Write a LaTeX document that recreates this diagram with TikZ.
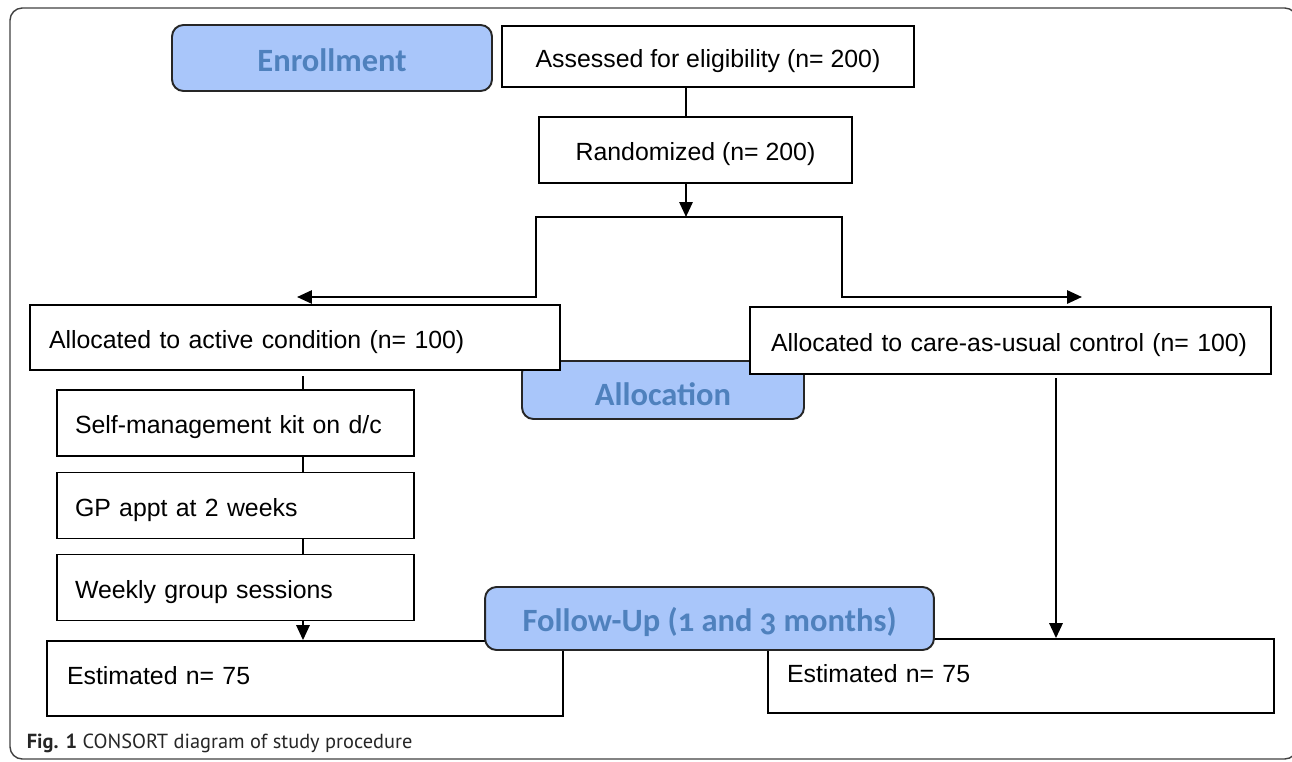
\documentclass[tikz,border=0pt]{standalone}
\usepackage{fontspec}
\setmainfont{Liberation Sans}
\newfontfamily\phasefont[Numbers=OldStyle]{Carlito}
\newfontfamily\capfont{PT Sans}
\usetikzlibrary{arrows.meta}
\definecolor{phasefill}{RGB}{169,198,250}
\definecolor{phasetext}{RGB}{79,129,189}
\tikzset{
	every node/.append style={font=\fontsize{14.15}{17}\selectfont}
	}

\begin{document}
\begin{tikzpicture}[>={Triangle[length=8.5pt,width=7.5pt]},x=0.02cm,y=-0.02cm]
		% \draw[help lines] (0,0) grid (1292,761);
		\path[use as bounding box] (0,0) rectangle (1292,761);
		\tikzstyle{every path}=[line width=1pt]
		\tikzstyle{plainbox}=[draw,rectangle,inner sep=0pt,fill=white,text height=12.5pt,text depth=0.5pt]
		\tikzstyle{leftbox}=[plainbox,align=left]
		\tikzstyle{estbox}=[leftbox,text height=10.3pt,text depth=3.4pt]
		\tikzstyle{phase}=[draw=black!85,line width=1.1pt,rounded corners=6.5pt,fill=phasefill,text=phasetext,inner sep=0pt,font=\phasefont\bfseries\fontsize{18.5}{22}\selectfont]
		\tikzstyle{link}=[line width=1.3pt]
		
		%% Frame
		\draw[line width=0.8pt,black!75,rounded corners=7pt] (10,8) rectangle (1297,759);
		
		%% Enrollment
		\draw (332,58) node[phase,minimum width=6.4cm,minimum height=1.32cm,text height=15.2pt,text depth=0pt] (enrol) {Enrollment};
		\draw (708,56.5) node[plainbox,minimum width=8.24cm,minimum height=1.22cm] (assess) {Assessed for eligibility (n= 200)};
		\draw (695.5,150) node[plainbox,minimum width=6.26cm,minimum height=1.32cm] (rand) {Randomized (n= 200)};
		\coordinate (split) at (686,217);
		\coordinate (splitL) at (536,217);
		\coordinate (splitR) at (842,217);
		\coordinate (armL) at (297,297);
		\coordinate (armR) at (1082,297);
		\draw[link] (assess.south -| split) -- (rand.north -| split);
		\draw[link,->] (rand.south -| split) -- (split);
		\draw[link,->] (split) -- (splitL) |- (armL);
		\draw[link,->] (split) -- (splitR) |- (armR);
		
		%% Allocation
		\draw (663,390) node[phase,minimum width=5.64cm,minimum height=1.16cm,text height=17.6pt,text depth=0pt] (alloc) {Allocation};
		\draw (295,337.5) node[leftbox,text width=9.84cm,inner xsep=0.38cm,minimum height=1.3cm] (act) {Allocated to active condition (n= 100)};
		\draw (1010.5,340.5) node[leftbox,text width=9.58cm,inner xsep=0.42cm,minimum height=1.34cm] (care) {Allocated to care-as-usual control (n= 100)};
		
		%% Active arm
		\coordinate (lc) at (303,376);
		\draw (235.5,423) node[leftbox,text width=6.42cm,inner xsep=0.36cm,minimum height=1.32cm] (self) {Self-management kit on d/c};
		\draw (235.5,505.5) node[leftbox,text width=6.42cm,inner xsep=0.36cm,minimum height=1.32cm] (gp) {GP appt at 2 weeks};
		\draw (235.5,587.5) node[leftbox,text width=6.42cm,inner xsep=0.36cm,minimum height=1.32cm] (weekly) {Weekly group sessions};
		\draw[link] (lc) -- (lc |- self.north);
		\draw[link] (self.south -| lc) -- (gp.north -| lc);
		\draw[link] (gp.south -| lc) -- (weekly.north -| lc);
		
		%% Follow-up
		\draw (305,678.5) node[estbox,text width=9.52cm,inner xsep=0.4cm,minimum height=1.5cm] (estL) {Estimated n= 75};
		\draw (1021,676) node[estbox,text width=9.36cm,inner xsep=0.38cm,minimum height=1.48cm] (estR) {Estimated n= 75};
		\coordinate (rc) at (1056,378);
		\draw[link,->] (weekly.south -| lc) -- (estL.north -| lc);
		\draw[link,->] (rc) -- (rc |- estR.north);
		\draw (709.5,618.5) node[phase,minimum width=8.98cm,minimum height=1.26cm,text height=16pt,text depth=1.2pt] (follow) {Follow-Up (1 and 3 months)};
		
		%% Caption
		\draw (26,743) node[anchor=west,inner sep=0pt,text=black!85,font=\capfont\fontsize{11.6}{14}\selectfont] (cap) {\textbf{Fig. 1} CONSORT diagram of study procedure};
		
	\end{tikzpicture}
\end{document}
